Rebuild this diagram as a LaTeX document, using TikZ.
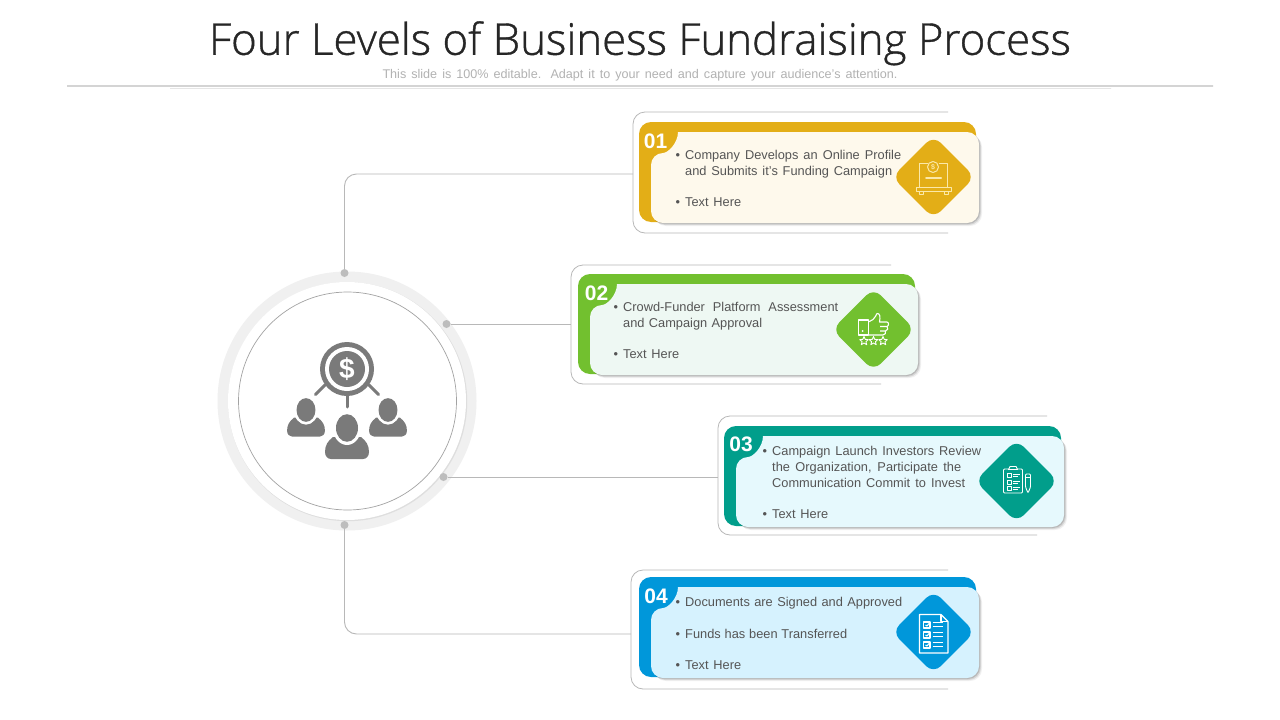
\documentclass[tikz,border=0pt]{standalone}
\usepackage{fontspec}
\setmainfont{Liberation Sans}
\newfontfamily\titlefont[FakeBold=0.9]{Open Sans Light}
\usetikzlibrary{shapes.geometric}
\definecolor{gold}{HTML}{E3AE17}
\definecolor{goldbg}{HTML}{FEF9EC}
\definecolor{goldic}{HTML}{FBE8A8}
\definecolor{leaf}{HTML}{72C02F}
\definecolor{leafbg}{HTML}{EEF8F3}
\definecolor{teal2}{HTML}{019E8B}
\definecolor{tealbg}{HTML}{E6F9FD}
\definecolor{sky}{HTML}{0097DA}
\definecolor{skybg}{HTML}{D6F2FE}
\definecolor{ink}{HTML}{555555}
\definecolor{iconink}{HTML}{7A7A7A}
\tikzset{
  framebox/.style={draw=black!28,line width=.8pt,rounded corners=12pt},
  conn/.style={draw=black!28,line width=.9pt,rounded corners=12pt},
  dotnode/.style={circle,fill=black!26,minimum size=8pt,inner sep=0pt},
  txt/.style={anchor=north west,inner sep=0pt,text=ink,font=\fontsize{12.8}{16}\selectfont,align=left},
  num/.style={text=white,font=\fontsize{21}{21}\selectfont\bfseries,inner sep=0pt},
  diabox/.style={shape=rectangle,rotate=45,rounded corners=10pt,minimum size=58.5pt,inner sep=0pt},
  icon/.style={line width=1.1pt,line join=round},
  strokei/.style={line width=3pt,draw=iconink,line cap=round},
}
% back plate and front panel, origin at the back plate's top left corner
\newcommand{\cardplates}[3]{%
  \begin{scope}[shift={(#1)}]
    \fill[#2,rounded corners=12pt] (0,0) rectangle (337,100);
    \foreach \o/\a in {3/.06,2/.10,1/.14}{
      \fill[black,opacity=\a] (39+\o,10+\o) {[rounded corners=12pt] -- (340+\o,10+\o) -- (340+\o,101+\o) -- (12+\o,101+\o) -- (12+\o,31+\o)} .. controls (29+\o,31+\o) and (39+\o,21+\o) .. (39+\o,10+\o) -- cycle;
    }
    \fill[#3] (39,10) {[rounded corners=12pt] -- (340,10) -- (340,101) -- (12,101) -- (12,31)} .. controls (29,31) and (39,21) .. (39,10) -- cycle;
  \end{scope}}
\newcommand{\bul}[1]{\makebox[9.5pt][l]{•}\ignorespaces#1}
\newcommand{\ind}{\hspace*{9.5pt}}
\newcommand{\spr}[2]{\makebox[#1pt][s]{#2}}
\begin{document}
\begin{tikzpicture}[x=1pt,y=-1pt]
\useasboundingbox (0,0) rectangle (1280,720);
\fill[white] (0,0) rectangle (1280,720);

% title
\node[inner sep=0pt,text=black!85,font=\titlefont\fontsize{43.8}{44}\selectfont] (title) at (640,43.3) {Four Levels of Business Fundraising Process};
\node[inner sep=0pt,text=black!30,font=\fontsize{12.6}{14}\selectfont] (sub) at (640,75.3) {\spr{515}{This slide is 100\% editable. Adapt it to your need and capture your audience’s attention.}};
\shade[left color=black!17,middle color=black!10,right color=black!17] (67,85.3) rectangle (1213,86);
\shade[left color=black!10,middle color=white,right color=black!10] (170,88.3) rectangle (1111,88.9);

% hub circle
\node[circle,fill=black!6,minimum size=259pt,inner sep=0pt] (ring) at (347,401) {};
\node[circle,fill=black!13,minimum size=239pt,inner sep=0pt] (ringsh) at (347.7,401.7) {};
\node[circle,fill=white,minimum size=238pt,inner sep=0pt] (disc) at (347,401) {};
\node[circle,draw=black!36,line width=.7pt,fill=white,minimum size=218pt,inner sep=0pt] (hub) at (347.5,401) {};

% hub icon
\node[circle,fill=iconink,minimum size=54pt,inner sep=0pt] (lens) at (347,369) {};
\node[circle,fill=white,minimum size=44pt,inner sep=0pt] (lensw) at (347,369) {};
\node[circle,fill=iconink,minimum size=36pt,inner sep=0pt,text=white,font=\fontsize{28}{28}\selectfont\bfseries] (coin) at (347,369) {\$};
\draw[strokei] (347,396) -- (347,407);
\draw[strokei] (325,385) -- (315.5,394.5);
\draw[strokei] (369,385) -- (378.5,394.5);
\foreach \cx/\cy/\s in {306/410/.86,388/410/.86,347/428/1}{
  \begin{scope}[shift={(\cx,\cy)},scale=\s]
    \fill[iconink] (-14,9) .. controls (-19,13) and (-22,17) .. (-22,24) .. controls (-22,28.5) and (-19,31) .. (-16,31) -- (16,31) .. controls (19,31) and (22,28.5) .. (22,24) .. controls (22,17) and (19,13) .. (14,9) -- cycle;
    \fill[white] (0,0) ellipse [x radius=14,y radius=17];
    \fill[iconink] (0,0) ellipse [x radius=11,y radius=13.8];
  \end{scope}
}

% cards
\cardplates{639,122}{gold}{goldbg}
\cardplates{578,274}{leaf}{leafbg}
\cardplates{724,426}{teal2}{tealbg}
\cardplates{639,577}{sky}{skybg}

% open frames
\draw[framebox] (948,112) -- (633,112) -- (633,233) -- (948,233);
\draw[framebox] (891,265) -- (571,265) -- (571,384) -- (881,384);
\draw[framebox] (1047,416) -- (718,416) -- (718,535) -- (1037,535);
\draw[framebox] (948,570) -- (631,570) -- (631,689) -- (948,689);

\coordinate (f1) at (633,174);
\coordinate (f2) at (571,324);
\coordinate (f3) at (718,477);
\coordinate (f4) at (631,634);

% hub dots and connectors
\node[dotnode] (dot1) at (344.5,273) {};
\node[dotnode] (dot2) at (446.5,324) {};
\node[dotnode] (dot3) at (443.5,477) {};
\node[dotnode] (dot4) at (344.5,525) {};
\draw[conn] (dot1) |- (f1);
\draw[conn] (dot2) -- (f2);
\draw[conn] (dot3) -- (f3);
\draw[conn] (dot4) |- (f4);

% numbers
\node[num] (n1) at (655.5,141) {01};
\node[num] (n2) at (596.5,293.5) {02};
\node[num] (n3) at (741,444) {03};
\node[num] (n4) at (656,596) {04};

% texts
\node[txt] (t11) at (675.5,149.6) {\bul{\spr{216}{Company Develops an Online Profile}}\\\ind\spr{207}{and Submits it’s Funding Campaign}};
\node[txt] (t12) at (675.5,197.6) {\bul{\spr{56}{Text Here}}};
\node[txt] (t21) at (613.5,301.6) {\bul{\spr{215}{Crowd-Funder Platform Assessment}}\\\ind\spr{139}{and Campaign Approval}};
\node[txt] (t22) at (613.5,349.6) {\bul{\spr{56}{Text Here}}};
\node[txt] (t31) at (762.5,445.6) {\bul{\spr{209}{Campaign Launch Investors Review}}\\\ind\spr{189}{the Organization, Participate the}\\\ind\spr{193}{Communication Commit to Invest}};
\node[txt] (t32) at (762.5,509.6) {\bul{\spr{56}{Text Here}}};
\node[txt] (t41) at (675.5,596.6) {\bul{\spr{217}{Documents are Signed and Approved}}};
\node[txt] (t42) at (675.5,628.6) {\bul{\spr{162}{Funds has been Transferred}}};
\node[txt] (t43) at (675.5,660.6) {\bul{\spr{56}{Text Here}}};

% diamonds
\node[diabox,fill=gold] (d1) at (933.5,177) {};
\node[diabox,fill=leaf] (d2) at (873.5,329.5) {};
\node[diabox,fill=teal2] (d3) at (1016.5,481) {};
\node[diabox,fill=sky] (d4) at (933.5,632) {};

% icon 1: donation box
\begin{scope}[icon,draw=goldic]
  \draw (928,163.5) -- (919.5,163.5) -- (919.5,187.5);
  \draw (938.5,163.5) -- (947.5,163.5) -- (947.5,187.5);
  \node[circle,draw=goldic,line width=1pt,minimum size=11pt,inner sep=0pt,text=goldic,font=\fontsize{7}{7}\selectfont\bfseries] (coin1) at (933,167) {\$};
  \draw[line width=2pt,line cap=round] (926,177.5) -- (941,177.5);
  \draw (916.5,187.5) rectangle (951.5,191.5);
  \draw (919.5,191.5) rectangle (923.5,194.5);
  \draw (944.5,191.5) rectangle (948.5,194.5);
\end{scope}

% icon 2: thumbs up with stars
\begin{scope}[icon,draw=white]
  \draw (858.5,320) rectangle (868.5,335);
  \fill[white] (862.5,331) circle (1);
  \draw (868.5,322) -- (873,319.5) .. controls (875,318) and (876,315) .. (877,313.5) .. controls (880,313) and (880.5,317) .. (879.5,322) -- (887,322) .. controls (889,322) and (889,326) .. (887,326.5) -- (880,326.5);
  \draw (887,326.5) .. controls (888.5,327.5) and (888,331) .. (885.5,331) -- (880,331);
  \draw (885.5,331) .. controls (886,333) and (885,335) .. (883,335) -- (868.5,335);
  \node[star,star points=5,star point ratio=2.2,draw=white,line width=.9pt,minimum size=9pt,inner sep=0pt] (s1) at (864,341) {};
  \node[star,star points=5,star point ratio=2.2,draw=white,line width=.9pt,minimum size=9pt,inner sep=0pt] (s2) at (873.5,341) {};
  \node[star,star points=5,star point ratio=2.2,draw=white,line width=.9pt,minimum size=9pt,inner sep=0pt] (s3) at (883,341) {};
\end{scope}

% icon 3: clipboard and pen
\begin{scope}[icon,draw=white,line width=.9pt]
  \draw[rounded corners=1pt] (1003.5,469) rectangle (1022.5,493);
  \draw[fill=teal2] (1008.5,469.5) -- (1010,466.5) -- (1016,466.5) -- (1017.5,469.5) -- cycle;
  \foreach \yy in {475.5,482,488.5}{
    \draw (1007,\yy-2) rectangle (1011,\yy+2);
    \draw (1013,\yy-1) -- (1019.5,\yy-1);
    \draw (1013,\yy+1) -- (1017.5,\yy+1);
  }
  \draw[rounded corners=1pt] (1025.5,474) -- (1030.5,474) -- (1030.5,487) -- (1028,493) -- (1025.5,487) -- cycle;
  \draw (1025.5,477.5) -- (1030.5,477.5);
\end{scope}

% icon 4: checklist document
\begin{scope}[icon,draw=white]
  \draw (919.5,614.5) -- (941,614.5) -- (948,621.5) -- (948,653) -- (919.5,653) -- cycle;
  \draw (941,614.5) -- (941,621.5) -- (948,621.5);
  \foreach \yy in {625,635,645}{
    \draw (923.5,\yy-3) rectangle (930,\yy+3);
    \draw (927,\yy+1) -- (925.5,\yy) (927,\yy+1) -- (929,\yy-1.5);
    \draw (932.5,\yy-2.5) -- (943,\yy-2.5);
    \draw (932.5,\yy+1.5) -- (943,\yy+1.5);
  }
\end{scope}
\end{tikzpicture}
\end{document}
